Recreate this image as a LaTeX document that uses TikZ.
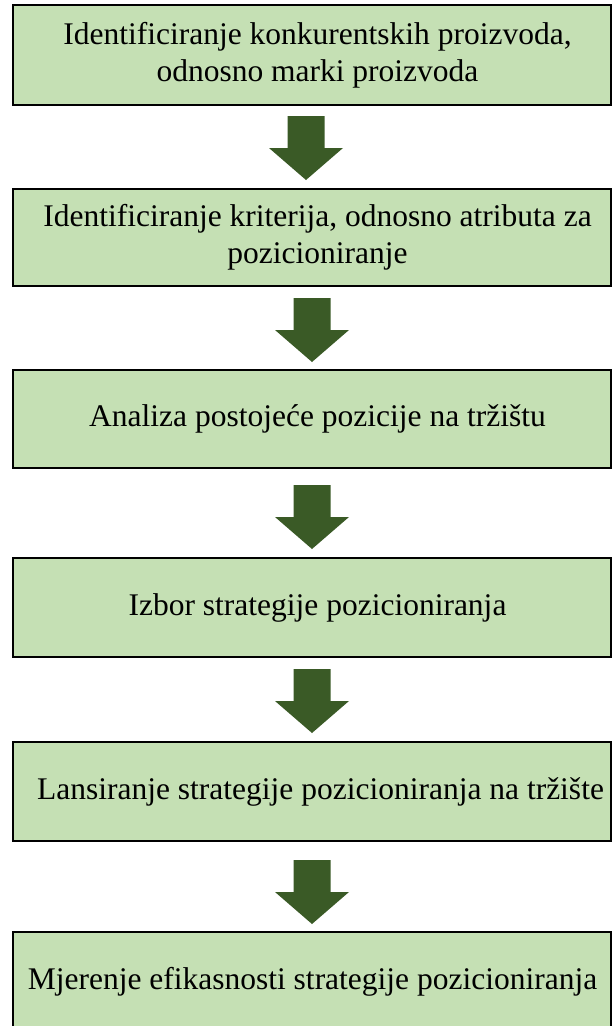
\documentclass[tikz,border=0pt]{standalone}
\usepackage{fontspec}
\setmainfont{Liberation Serif}
\definecolor{boxgreen}{HTML}{C5E0B4}
\definecolor{arrowgreen}{HTML}{3A5A26}
\tikzset{
  box/.style={draw=black, line width=2pt, fill=boxgreen, minimum width=598pt, inner sep=0pt},
  txt/.style={align=center, inner sep=0pt, font=\fontsize{31.5}{37}\selectfont},
  blockarrow/.pic={\fill[arrowgreen] (-18.5,0) -- (18.5,0) -- (18.5,32) -- (37,32)
     -- (0,64) -- (-37,32) -- (-18.5,32) -- cycle;}
}
\begin{document}
\begin{tikzpicture}[x=1pt,y=-1pt]
\useasboundingbox (0,0) rectangle (613,1026);
\node[box, minimum height=100pt] (b1) at (311.5,55) {};
\node[box, minimum height=97pt] (b2) at (311.5,237.5) {};
\node[box, minimum height=98pt] (b3) at (311.5,419) {};
\node[box, minimum height=99pt] (b4) at (311.5,607.5) {};
\node[box, minimum height=99pt] (b5) at (311.5,791.5) {};
\node[box, minimum height=99pt] (b6) at (311.5,981.5) {};
\node[txt] (t1) at ([xshift=6pt]b1.center) {Identificiranje konkurentskih proizvoda,\\odnosno marki proizvoda};
\node[txt] (t2) at ([xshift=6pt]b2.center) {Identificiranje kriterija, odnosno atributa za\\pozicioniranje};
\node[txt] (t3) at ([xshift=6pt]b3.center) {Analiza postojeće pozicije na tržištu};
\node[txt] (t4) at ([xshift=6pt]b4.center) {Izbor strategije pozicioniranja};
\node[txt] (t5) at ([xshift=9pt]b5.center) {Lansiranje strategije pozicioniranja na tržište};
\node[txt] (t6) at ([xshift=1pt]b6.center) {Mjerenje efikasnosti strategije pozicioniranja};
\coordinate (a1) at (306,116);
\coordinate (a2) at (312,298);
\coordinate (a3) at (312,485);
\coordinate (a4) at (312,669);
\coordinate (a5) at (312,860);
\foreach \a in {a1,a2,a3,a4,a5} { \pic at (\a) {blockarrow}; }
\end{tikzpicture}
\end{document}
